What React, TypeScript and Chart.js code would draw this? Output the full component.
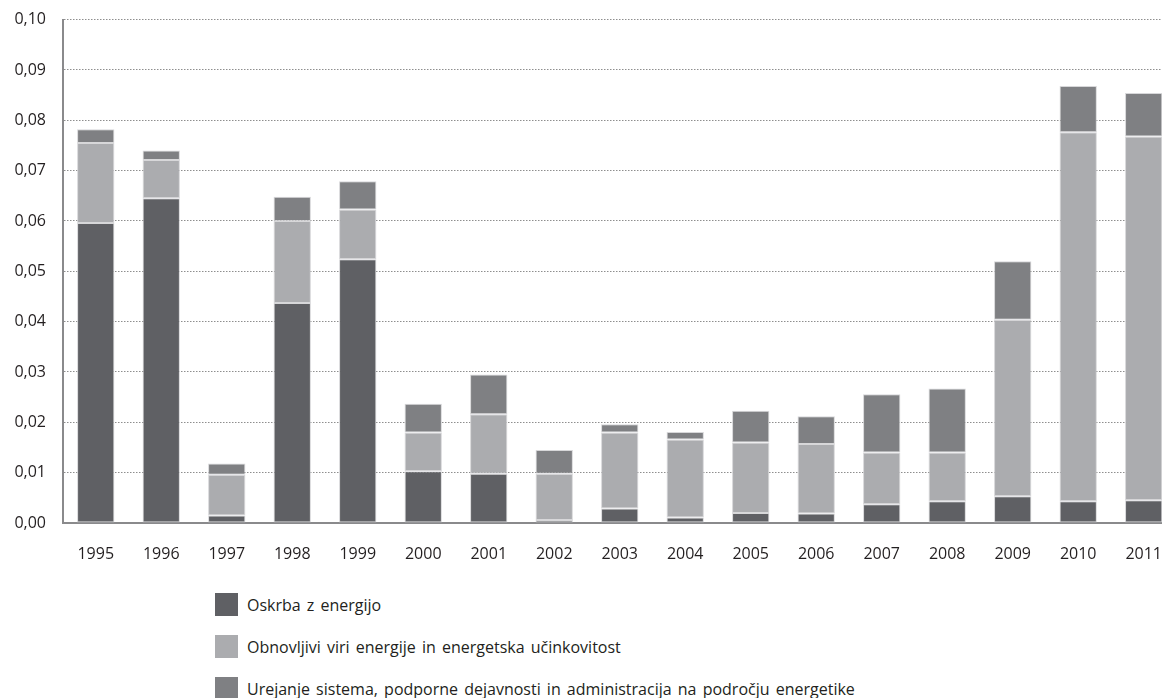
import React, { useEffect, useRef } from "react";
import { Chart, registerables } from "chart.js";

Chart.register(...registerables);

const years = ["1995","1996","1997","1998","1999","2000","2001","2002","2003","2004","2005","2006","2007","2008","2009","2010","2011"];
const oskrba = [0.0596,0.0645,0.0015,0.0437,0.0524,0.0103,0.0098,0.0006,0.0029,0.0011,0.0020,0.0019,0.0037,0.0043,0.0053,0.0043,0.0045];
const obnovljivi = [0.0159,0.0076,0.0081,0.0163,0.0099,0.0077,0.0118,0.0092,0.0151,0.0155,0.0140,0.0138,0.0103,0.0097,0.0351,0.0733,0.0723];
const urejanje = [0.0027,0.0019,0.0022,0.0048,0.0056,0.0057,0.0079,0.0047,0.0016,0.0015,0.0063,0.0055,0.0116,0.0127,0.0116,0.0092,0.0086];
const seriesNames = [
  "Oskrba z energijo",
  "Obnovljivi viri energije in energetska učinkovitost",
  "Urejanje sistema, podporne dejavnosti in administracija na področju energetike",
];
const seriesColors = ["#5f6064", "#abacaf", "#7f8083"];
const yTicks = [0, 0.01, 0.02, 0.03, 0.04, 0.05, 0.06, 0.07, 0.08, 0.09, 0.1];

const FONT = "'Open Sans', 'DejaVu Sans', sans-serif";

export default function App() {
  const ref = useRef<HTMLCanvasElement | null>(null);

  useEffect(() => {
    if (!ref.current) return;
    const values = [oskrba, obnovljivi, urejanje];
    const chart = new Chart(ref.current, {
      type: "bar",
      data: {
        labels: years,
        datasets: values.map((v, i) => ({
          label: seriesNames[i],
          data: v,
          backgroundColor: seriesColors[i],
          borderColor: "rgba(205,205,207,0.8)",
          borderWidth: 1,
          borderSkipped: false,
          barPercentage: 0.57,
          categoryPercentage: 1,
        })),
      },
      options: {
        responsive: false,
        animation: false,
        layout: { padding: { top: 11, right: 0, bottom: 0, left: 0 } },
        plugins: { legend: { display: false }, tooltip: { enabled: false } },
        scales: {
          x: {
            stacked: true,
            grid: { display: false, drawTicks: false },
            border: { display: true, color: "#8a8a8c", width: 2 },
            ticks: {
              color: "#231f20",
              font: { family: FONT, size: 16 },
              padding: 22,
              maxRotation: 0,
              autoSkip: false,
            },
            afterFit: (s: any) => { s.height = 47; },
          },
          y: {
            stacked: true,
            min: 0,
            max: 0.1,
            afterBuildTicks: (s: any) => { s.ticks = yTicks.map((v) => ({ value: v })); },
            grid: {
              color: "#8e8e8e",
              lineWidth: 1,
              drawTicks: false,
              tickLength: 0,
            },
            border: { display: true, color: "#8a8a8c", width: 2, dash: [1.5, 1.5] },
            ticks: {
              color: "#231f20",
              font: { family: FONT, size: 16 },
              padding: 17,
              callback: (v: any) => Number(v).toFixed(2).replace(".", ","),
            },
            afterFit: (s: any) => { s.width = 55; },
          },
        },
      },
    } as any);
    return () => chart.destroy();
  }, []);

  return (
    <div style={{ position: "relative", width: 1162, height: 690, fontFamily: FONT }}>
      <div style={{ position: "absolute", left: 0, top: -15, width: 1162, height: 577, overflow: "hidden" }}>
        <canvas ref={ref} width={1176} height={577} style={{ display: "block", width: 1176, height: 577 }} />
      </div>
      {seriesNames.map((name, i) => (
        <div
          key={name}
          style={{
            position: "absolute",
            left: 207,
            top: 585 + i * 42,
            height: 23,
            display: "flex",
            alignItems: "center",
            whiteSpace: "nowrap",
          }}
        >
          <div style={{ width: 23, height: 23, background: seriesColors[i], marginRight: 9 }} />
          <span style={{ fontSize: 16, color: "#231f20", wordSpacing: 2 }}>{name}</span>
        </div>
      ))}
    </div>
  );
}
